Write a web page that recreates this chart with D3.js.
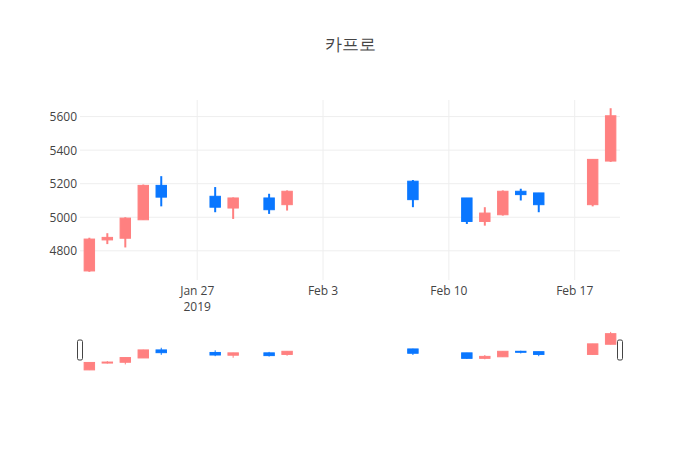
<!DOCTYPE html>
<html>
<head>
<meta charset="utf-8">
<script src="https://cdn.jsdelivr.net/npm/d3@7"></script>
<style>
  body { margin: 0; background: #fff; }
  text { font-family: "Open Sans", sans-serif; fill: #444; }
</style>
</head>
<body>
<svg id="chart" width="700" height="450"></svg>
<script>
// trading days and OHLC values
let dates = ['2019-01-21', '2019-01-22', '2019-01-23', '2019-01-24', '2019-01-25', '2019-01-28', '2019-01-29',
  '2019-01-31', '2019-02-01', '2019-02-08', '2019-02-11', '2019-02-12', '2019-02-13', '2019-02-14', '2019-02-15',
  '2019-02-18', '2019-02-19'];
let opens  = [4680, 4865, 4875, 4985, 5190, 5125, 5055, 5115, 5075, 5215, 5115, 4975, 5015, 5155, 5145, 5075, 5335];
let highs  = [4878, 4905, 5000, 5195, 5245, 5180, 5118, 5140, 5160, 5222, 5115, 5060, 5160, 5170, 5145, 5345, 5650];
let lows   = [4675, 4840, 4820, 4985, 5065, 5030, 4990, 5020, 5040, 5060, 4960, 4950, 5010, 5100, 5030, 5065, 5330];
let closes = [4870, 4880, 4995, 5190, 5120, 5060, 5115, 5045, 5155, 5105, 4975, 5025, 5155, 5135, 5075, 5345, 5605];

let xTicks = ['2019-01-27', '2019-02-03', '2019-02-10', '2019-02-17'];
let yTicks = [4800, 5000, 5200, 5400, 5600];

const upColor = '#ff8080';
const downColor = '#0a77ff';

let parse = d3.utcParse('%Y-%m-%d');
let data = dates.map((d, i) => ({
  date: parse(d), open: opens[i], high: highs[i], low: lows[i], close: closes[i]
}));

const svg = d3.select('#chart');
const DAY = 864e5;

let x = d3.scaleUtc()
  .domain([new Date(+data[0].date - 0.52 * DAY), new Date(+data[data.length - 1].date + 0.52 * DAY)])
  .range([80, 620]);

let y = d3.scaleLinear()
  .domain([4626, 5699])
  .range([280, 100]);

let ySlider = d3.scaleLinear()
  .domain([4626, 5699])
  .range([372, 330]);

// title
svg.append('text')
  .attr('x', 350).attr('y', 50)
  .attr('text-anchor', 'middle')
  .style('font-size', '17px')
  .text('카프로');

// grid
svg.append('g').selectAll('line')
  .data(yTicks)
  .join('line')
  .attr('x1', 80).attr('x2', 620)
  .attr('y1', d => y(d)).attr('y2', d => y(d))
  .style('stroke', '#eee');

svg.append('g').selectAll('line')
  .data(xTicks)
  .join('line')
  .attr('x1', d => x(parse(d))).attr('x2', d => x(parse(d)))
  .attr('y1', 100).attr('y2', 280)
  .style('stroke', '#eee');

// y axis labels
let yAxis = d3.axisLeft(y).tickValues(yTicks).tickFormat(d3.format('d')).tickSize(0).tickPadding(3);
let gy = svg.append('g').attr('transform', 'translate(80,0)').call(yAxis);
gy.select('.domain').remove();
gy.selectAll('text').style('font-size', '12px').style('fill', '#444').style('font-family', '"Open Sans", sans-serif');

// x axis labels
let fmt = d3.utcFormat('%b %-d');
svg.append('g').selectAll('text')
  .data(xTicks)
  .join('text')
  .attr('x', d => x(parse(d)))
  .attr('y', 295)
  .attr('text-anchor', 'middle')
  .style('font-size', '12px')
  .text(d => fmt(parse(d)));
svg.append('text')
  .attr('x', x(parse(xTicks[0]))).attr('y', 311)
  .attr('text-anchor', 'middle')
  .style('font-size', '12px')
  .text('2019');

let boxW = (x(new Date(2 * DAY)) - x(new Date(DAY))) * 0.58;

function drawCandles(g, ys, wick) {
  let c = g.selectAll('g')
    .data(data)
    .join('g')
    .style('fill', d => d.close >= d.open ? upColor : downColor)
    .style('stroke', d => d.close >= d.open ? upColor : downColor);
  c.append('line')
    .attr('x1', d => x(d.date)).attr('x2', d => x(d.date))
    .attr('y1', d => ys(d.high)).attr('y2', d => ys(d.low))
    .style('stroke-width', wick);
  c.append('rect')
    .attr('x', d => x(d.date) - boxW / 2)
    .attr('width', boxW)
    .attr('y', d => ys(Math.max(d.open, d.close)))
    .attr('height', d => Math.max(1, Math.abs(ys(d.open) - ys(d.close))))
    .style('stroke-width', 1);
}

drawCandles(svg.append('g'), y, 2);

// range slider
drawCandles(svg.append('g'), ySlider, 1);
svg.append('g').selectAll('rect')
  .data(x.range())
  .join('rect')
  .attr('x', d => d - 2.5)
  .attr('y', 340)
  .attr('width', 5)
  .attr('height', 20)
  .attr('rx', 1.5)
  .style('fill', '#fff')
  .style('stroke', '#444')
  .style('stroke-width', 1);
</script>
</body>
</html>
